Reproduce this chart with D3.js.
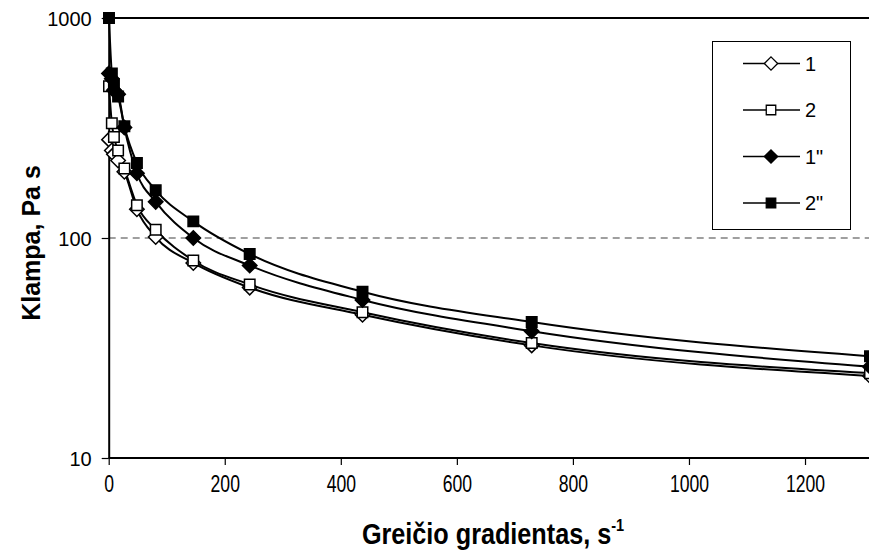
<!doctype html>
<html>
<head>
    <meta charset="UTF-8">
    <title>klampa</title>
    <script src="https://cdn.jsdelivr.net/npm/d3@7"></script>
    <style>
        body{margin:0;background:#fff;}
        text{font-family:"Liberation Sans",Arial,sans-serif;}
    </style>
</head>
<body>
    <script>
        var w=869, h=560;
        // shear rates (s-1)
        var rates=[0.5, 5.4, 9, 16.2, 27, 48.6, 81, 145.8, 243, 437.4, 729, 1312];
        var s1=[280, 250, 240, 225, 200, 135, 101, 77, 59.5, 44.8, 32.5, 23.6];
        var s2=[490, 332, 288, 250, 207, 141, 109, 79, 61.5, 46, 33.3, 24.3];
        var s1b=[560, 530, 470, 450, 318, 197, 146, 100, 75, 52.3, 37.7, 26];
        var s2b=[1000, 560, 500, 440, 322, 219, 165, 119, 84.5, 57, 41.5, 29];
        var names=["1", "2", "1\"", "2\""];
        var xTicks=[0, 200, 400, 600, 800, 1000, 1200];
        var yTicks=[10, 100, 1000];

        var x=d3.scaleLinear().domain([0,1312]).range([108.7,870]);
        var y=d3.scaleLog().domain([10,1000]).range([458,18]);

        // square diamond (rotated square)
        var diamond={draw:function(ctx,size){
            var r=Math.sqrt(size)/Math.sqrt(2)*1.05;
            ctx.moveTo(0,-r); ctx.lineTo(r,0); ctx.lineTo(0,r); ctx.lineTo(-r,0); ctx.closePath();
        }};

        var svg=d3.select("body").append("svg").attr("width",w).attr("height",h);

        // dashed gridline at 100
        svg.append("line")
            .attr("x1",x(0)).attr("x2",w)
            .attr("y1",y(100)).attr("y2",y(100))
            .attr("stroke","#808080").attr("stroke-width",1.3)
            .attr("stroke-dasharray","7,5");

        // top border
        svg.append("line")
            .attr("x1",x(0)).attr("x2",w)
            .attr("y1",y(1000)).attr("y2",y(1000))
            .attr("stroke","#000").attr("stroke-width",2);

        var yAxis=svg.append("g").attr("transform","translate("+x(0)+",0)")
            .call(d3.axisLeft(y).tickValues(yTicks).tickFormat(d3.format("d")).tickSize(7).tickSizeOuter(0).tickPadding(10));
        var xAxis=svg.append("g").attr("transform","translate(0,"+y(10)+")")
            .call(d3.axisBottom(x).tickValues(xTicks).tickFormat(d3.format("d")).tickSize(7).tickSizeOuter(0).tickPadding(9));
        xAxis.select(".domain").attr("d","M"+x(0)+",0H"+w);
        [xAxis,yAxis].forEach(function(a){
            a.select(".domain").attr("stroke","#000").attr("stroke-width",2);
            a.selectAll(".tick line").attr("stroke","#000").attr("stroke-width",1.2);
            a.selectAll(".tick text").attr("fill","#000").style("font-size","20px");
        });
        yAxis.selectAll(".tick text").attr("dy","0.35em");
        // x tick labels look condensed and tall
        xAxis.selectAll(".tick text")
            .attr("y",0).attr("dy",0)
            .attr("transform","translate(0,34) scale(0.88,1.18)");

        // series
        var series=[
            {name:names[0], vals:s1, shape:diamond, fill:"#fff"},
            {name:names[1], vals:s2, shape:d3.symbolSquare, fill:"#fff"},
            {name:names[2], vals:s1b, shape:diamond, fill:"#000"},
            {name:names[3], vals:s2b, shape:d3.symbolSquare, fill:"#000"}
        ];
        var line=d3.line()
            .x(function(d){return x(d[0]);})
            .y(function(d){return y(d[1]);})
            .curve(d3.curveMonotoneX);

        series.forEach(function(s){
            var pts=rates.map(function(r,i){return [r,s.vals[i]];});
            svg.append("path").datum(pts)
                .attr("d",line).attr("fill","none")
                .attr("stroke","#000").attr("stroke-width",2);
            s.pts=pts;
        });
        series.forEach(function(s){
            svg.selectAll(null).data(s.pts).enter().append("path")
                .attr("transform",function(d){return "translate("+x(d[0])+","+y(d[1])+")";})
                .attr("d",d3.symbol().type(s.shape).size(s.shape===d3.symbolSquare?110:95))
                .attr("fill",s.fill).attr("stroke","#000").attr("stroke-width",1.5);
        });

        // legend
        var lg=svg.append("g");
        lg.append("rect").attr("x",712.5).attr("y",41.5).attr("width",138).attr("height",188)
            .attr("fill","#fff").attr("stroke","#000").attr("stroke-width",1);
        series.forEach(function(s,i){
            var ly=63.5+i*46.5;
            lg.append("line").attr("x1",743).attr("x2",800).attr("y1",ly).attr("y2",ly)
                .attr("stroke","#000").attr("stroke-width",1.5);
            lg.append("path").attr("transform","translate(771,"+ly+")")
                .attr("d",d3.symbol().type(s.shape).size(s.shape===d3.symbolSquare?90:80))
                .attr("fill",s.fill).attr("stroke","#000").attr("stroke-width",1.3);
            lg.append("text").attr("x",805).attr("y",ly+7).style("font-size","20px").text(s.name);
        });

        // axis titles
        var xt=svg.append("text").attr("transform","translate(493,544) scale(0.97,1.15)")
            .attr("text-anchor","middle").style("font-size","26px").style("font-weight","bold")
            .text("Greičio gradientas, s");
        xt.append("tspan").attr("dy",-11).style("font-size","15px").text("-1");

        svg.append("text").attr("transform","translate(40,243) rotate(-90)")
            .attr("text-anchor","middle").style("font-size","25px").style("font-weight","bold")
            .text("Klampa, Pa s");
    </script>
</body>
</html>
